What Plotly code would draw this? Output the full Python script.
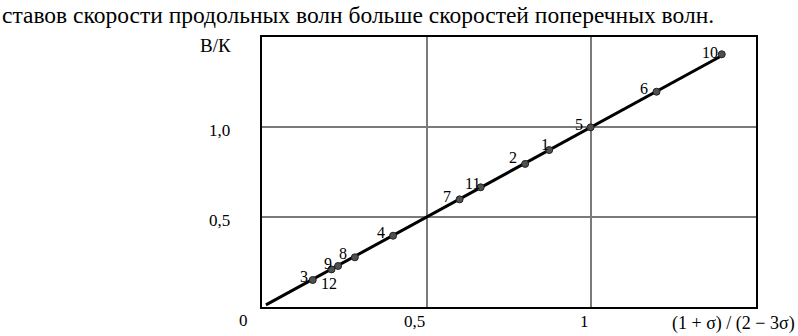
import plotly.graph_objects as go

# data
point_labels = ["1", "2", "3", "4", "5", "6", "7", "8", "9", "10", "11", "12"]
x_vals = [0.872, 0.799, 0.154, 0.398, 0.998, 1.198, 0.600, 0.282, 0.211, 1.396, 0.664, 0.231]
y_vals = [0.872, 0.795, 0.150, 0.396, 0.998, 1.196, 0.598, 0.276, 0.209, 1.404, 0.665, 0.228]
fit_x = [0.012, 1.40]
fit_y = [0.012, 1.40]
x_tick_vals = [0.5, 1.0]
x_tick_text = ["0,5", "1"]
y_tick_vals = [0.5, 1.0]
y_tick_text = ["0,5", "1,0"]
header_text = "ставов скорости продольных волн больше скоростей поперечных волн."
y_title = "В/К"
x_title = "(1 + σ) / (2 − 3σ)"

# label offsets (pixels) — styling
label_dx = [-4, -12, -9, -12, -12, -13, -13, -12, -3, -12, -8, -9]
label_dy = [-6, -6, -4, -3, -3, -3, -3, -4, -6, -2, -4, 18]

SERIF = "Liberation Serif, Times New Roman, serif"
W, H = 798, 336
ML, MR, MT, MB = 262, 42, 37, 29
PW, PH = W - ML - MR, H - MT - MB

fig = go.Figure()
fig.add_trace(go.Scatter(x=fit_x, y=fit_y, mode="lines",
                         line=dict(color="black", width=3), hoverinfo="skip",
                         showlegend=False))
fig.add_trace(go.Scatter(x=x_vals, y=y_vals, mode="markers",
                         marker=dict(symbol="circle", size=7, color="#505050",
                                     line=dict(color="#222222", width=1)),
                         showlegend=False))

annotations = []
for lbl, x, y, dx, dy in zip(point_labels, x_vals, y_vals, label_dx, label_dy):
    annotations.append(dict(x=x, y=y, xref="x", yref="y", text=lbl, showarrow=False,
                            xshift=dx, yshift=-dy, xanchor="center", yanchor="middle",
                            font=dict(family=SERIF, size=16, color="black")))
for v, t in zip(x_tick_vals, x_tick_text):
    annotations.append(dict(x=v, y=0, xref="x", yref="y", text=t, showarrow=False,
                            xanchor="right", yanchor="middle", yshift=-14,
                            font=dict(family=SERIF, size=17, color="black")))
for v, t in zip(y_tick_vals, y_tick_text):
    annotations.append(dict(x=0, y=v, xref="x", yref="y", text=t, showarrow=False,
                            xanchor="right", yanchor="middle", xshift=-30, yshift=-3,
                            font=dict(family=SERIF, size=17, color="black")))
annotations.append(dict(x=0, y=0, xref="x", yref="y", text="0", showarrow=False,
                        xanchor="center", yanchor="middle", xshift=-19, yshift=-13,
                        font=dict(family=SERIF, size=17, color="black")))
annotations.append(dict(x=0, y=1.5, xref="x", yref="y", text=y_title, showarrow=False,
                        xanchor="center", yanchor="middle", xshift=-47, yshift=-8,
                        font=dict(family=SERIF, size=19, color="black")))
annotations.append(dict(x=1.5, y=0, xref="x", yref="y", text=x_title, showarrow=False,
                        xanchor="center", yanchor="middle", xshift=-23, yshift=-16,
                        font=dict(family=SERIF, size=18, color="black")))
annotations.append(dict(x=-ML / PW, y=1 + MT / PH, xref="paper", yref="paper",
                        text=header_text, showarrow=False, xanchor="left", yanchor="top",
                        font=dict(family=SERIF, size=23.5, color="black")))

fig.update_layout(
    width=W, height=H,
    margin=dict(l=ML, r=MR, t=MT, b=MB),
    paper_bgcolor="white", plot_bgcolor="white",
    annotations=annotations,
    xaxis=dict(range=[0, 1.5], tickvals=x_tick_vals, showticklabels=False,
               showgrid=True, gridcolor="#7a7a7a", gridwidth=1.5, zeroline=False,
               showline=True, linecolor="black", linewidth=2, mirror=True,
               ticks="", fixedrange=True),
    yaxis=dict(range=[0, 1.5], tickvals=y_tick_vals, showticklabels=False,
               showgrid=True, gridcolor="#7a7a7a", gridwidth=1.5, zeroline=False,
               showline=True, linecolor="black", linewidth=2, mirror=True,
               ticks="", fixedrange=True),
)

fig.write_html("out.html", config={"displayModeBar": False},
               post_script="document.body.style.margin='0';document.body.style.padding='0';")
